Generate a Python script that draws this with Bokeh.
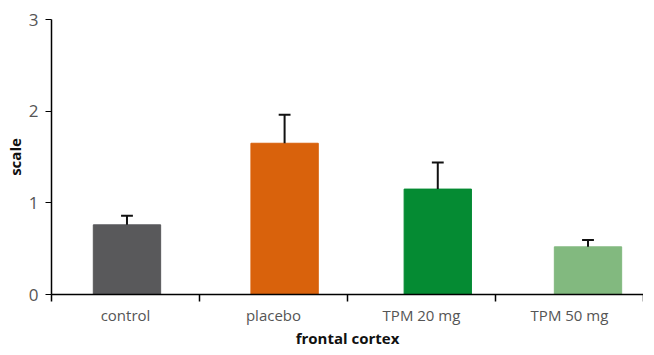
from bokeh.plotting import figure
from bokeh.models import Range1d, FixedTicker, ColumnDataSource
from bokeh.embed import file_html
from bokeh.resources import INLINE

categories = ["control", "placebo", "TPM 20 mg", "TPM 50 mg"]
values = [0.76, 1.65, 1.15, 0.52]
errors = [0.10, 0.31, 0.29, 0.075]
colors = ["#59595b", "#d9620c", "#058b33", "#82b97f"]
y_ticks = [0, 1, 2, 3]
x_title = "frontal cortex"
y_title = "scale"

# layout: small horizontal shift of each bar inside its category slot
bar_shift = [0.01, 0.075, 0.11, 0.125]
bar_width = 0.455
cap_half = 0.04

n = len(categories)
xc = [i + 0.5 + s for i, s in enumerate(bar_shift)]
err_top = [v + e for v, e in zip(values, errors)]
src = ColumnDataSource(dict(
    x=xc, top=values, color=colors, err_top=err_top,
    cap_l=[x - cap_half for x in xc], cap_r=[x + cap_half for x in xc],
))

p = figure(width=643, height=350, output_backend="svg", toolbar_location=None,
           x_range=Range1d(0, n), y_range=Range1d(0, 3),
           min_border_left=51, min_border_right=0, min_border_top=19,
           min_border_bottom=0)
p.outline_line_color = None
p.grid.grid_line_color = None
p.background_fill_color = "white"

p.vbar(x="x", top="top", bottom=0, width=bar_width, color="color", source=src)
p.segment(x0="x", y0="top", x1="x", y1="err_top", source=src,
          line_color="#111111", line_width=2)
p.segment(x0="cap_l", y0="err_top", x1="cap_r", y1="err_top", source=src,
          line_color="#111111", line_width=2)

# x axis: boundaries as minor ticks, labels at slot centers
xa = p.xaxis[0]
xa.ticker = FixedTicker(ticks=[i + 0.5 for i in range(n)],
                        minor_ticks=list(range(n + 1)))
xa.major_label_overrides = {i + 0.5: c for i, c in enumerate(categories)}
xa.major_tick_out = 0
xa.major_tick_in = 0
xa.minor_tick_out = 7
xa.minor_tick_in = 0
xa.minor_tick_line_color = "black"
xa.minor_tick_line_width = 1.5
xa.axis_line_color = "black"
xa.axis_line_width = 1.5
xa.major_label_text_font = "Open Sans"
xa.major_label_text_font_size = "15px"
xa.major_label_text_color = "#555555"
xa.major_label_standoff = 3
xa.axis_label = x_title
xa.axis_label_text_font = "Open Sans"
xa.axis_label_text_font_style = "bold"
xa.axis_label_text_font_size = "15px"
xa.axis_label_text_color = "#111111"
xa.axis_label_standoff = 0

ya = p.yaxis[0]
ya.ticker = FixedTicker(ticks=y_ticks, minor_ticks=[])
ya.major_tick_out = 6
ya.major_tick_in = 0
ya.major_tick_line_color = "black"
ya.axis_line_color = "black"
ya.axis_line_width = 1.5
ya.major_label_text_font = "Open Sans"
ya.major_label_text_font_size = "17px"
ya.major_label_text_color = "#555555"
ya.major_label_standoff = 7
ya.axis_label = y_title
ya.axis_label_text_font = "Open Sans"
ya.axis_label_text_font_style = "bold"
ya.axis_label_text_font_size = "15px"
ya.axis_label_text_color = "#111111"
ya.axis_label_standoff = 1

open("out.html", "w").write(file_html(p, INLINE))
